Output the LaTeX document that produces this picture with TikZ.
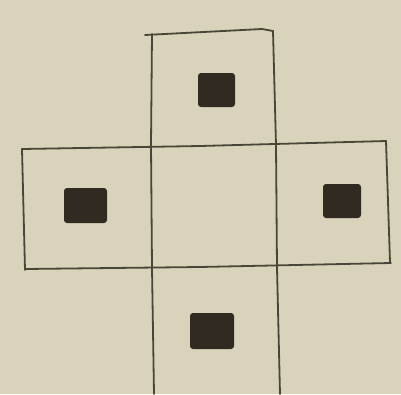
\documentclass[tikz,border=0pt]{standalone}
\definecolor{paper}{RGB}{218,211,187}
\definecolor{pencil}{RGB}{72,70,56}
\definecolor{ink}{RGB}{48,42,32}
\tikzset{
  stroke/.style={draw=pencil, line width=1.8pt, line cap=round},
  dot/.style={fill=ink, rounded corners=3pt},
}
\begin{document}
\begin{tikzpicture}[x=1pt,y=-1pt]
\fill[paper] (0,0) rectangle (401,394);
\useasboundingbox (0,0) rectangle (401,394);
% top cell
\draw[stroke] (145,35) -- (262,29) -- (273,31);
\draw[stroke] (152,34) -- (151,145) -- (152,268) -- (154,394);
\draw[stroke] (273,31) -- (276,145) -- (277,268) -- (280,394);
% middle row
\draw[stroke] (22,149) -- (200,146) -- (386,141);
\draw[stroke] (22,149) -- (25,270);
\draw[stroke] (386,141) -- (390,262);
\draw[stroke] (25,269) -- (200,267) -- (391,263);
% dots
\fill[dot] (198,73) rectangle (235,107);
\fill[dot] (64,188) rectangle (107,223);
\fill[dot] (323,184) rectangle (361,218);
\fill[dot] (190,313) rectangle (234,349);
\end{tikzpicture}
\end{document}
